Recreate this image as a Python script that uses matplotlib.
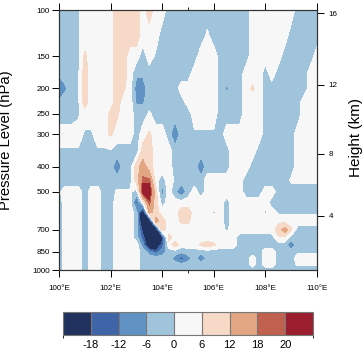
import numpy as np
import matplotlib
matplotlib.use("Agg")
import matplotlib.pyplot as plt
from matplotlib.colors import ListedColormap, BoundaryNorm

plt.rcParams['font.family'] = ['Liberation Sans', 'DejaVu Sans']

# grid of the cross section
lon = np.linspace(100, 110, 41)
plev = [100, 125, 150, 175, 200, 225, 250, 300, 350, 400, 450,
        500, 550, 600, 650, 700, 750, 800, 850, 900, 950, 1000]

# values, one code per grid point (see code_value)
rows = [
    "bbbl.....pppp.p..bbbbbbbbbbbbb.......bbbb",  # 100
    "bbbl.....pppp...bbbbbbbwbbbbbb......bbbbb",  # 125
    "bbblq....pp..b.lbbbbbb...bbbbb.....bbbbb.",  # 150
    "dbblp....pp.ddbbbbbbb....bbbb...b.bbbbb..",  # 175
    "Mcblp....pq.mmbbbbb......bcbb.q.bbbbbbb..",  # 200
    "dbblp....p..ccbbbbbb.....bbbb...bbbbbb...",  # 225
    "bbbl....qq..bbwbbbbbb....bbbb...bbbbbb...",  # 250
    "....ll..q...b.q..bMbbllllb......bbbbb....",  # 300
    "llllbblllbbbbpp...bbbbbbbbb....bbbbbb....",  # 350
    "bbbbbbbbbMbbpop...bbbbMbbbb...bbbbbbb....",  # 400
    "bbbbbbbbbbbbprr.b.lbbbb......bbbbbbbwwwww",  # 450
    "l...b..bbwwwbRRpm.dMb.b......bbb..bbbbbbb",  # 500
    "b...b..bb...B.rpb.........b......bbbbbbbb",  # 550
    "b...b..bb...bXop...pp...l.b.....l.lllllll",  # 600
    "b...b..bb...bXXop..qq.....b.......hh.....",  # 650
    "b...b..bb...bNXXp.........l.......poqbbbb",  # 700
    "b...b..bb...bBXXNp..........bbbbbbhhbbbbb",  # 750
    "b...b..bb..l.mXXB.p...qpq...bbbbbbbbMbbbb",  # 800
    "b...b..bb....bmBmbbdbbbbbbbbbbbb..bbbllll",  # 850
    "b...b..bb....bbbbbmBmbMdbbbbbb.b..bbb....",  # 900
    "b...b..bb....bbbbbbdbbbbbbbbbb.b..bbbwwww",  # 950
    "b...b..bb....bbbbbbbbbbbbbbbbbbbbbbbbbbbb",  # 1000
]
code_value = {'X': -30, 'N': -21, 'B': -15, 'M': -11.5, 'm': -9, 'c': -7,
              'd': -5, 'b': -3, 'l': -1, 'w': 1, '.': 3, 'h': 5, 'q': 7,
              'p': 9, 'o': 15, 'r': 19, 'R': 23}

levels = [-18, -12, -6, 0, 6, 12, 18, 20]
fill_colors = ['#21325f', '#3f64a8', '#6093c3', '#a1c4dd', '#f7f7f7',
               '#f7d9c7', '#e3a682', '#c0614f', '#9b1e2e']

pres_ticks = [100, 150, 200, 250, 300, 400, 500, 700, 850, 1000]
height_ticks = [4, 8, 12, 16]
lon_ticks = [100, 102, 104, 106, 108, 110]


def std_pressure(z_km):
    # standard atmosphere, hPa
    z = z_km * 1000.0
    if z <= 11000:
        return 1013.25 * (1 - 2.25577e-5 * z) ** 5.25588
    return 226.32 * np.exp(-(z - 11000) / 6341.62)


field = np.array([[code_value[ch] for ch in r] for r in rows], dtype=float)

bounds = [-99] + levels + [99]
cmap = ListedColormap(fill_colors)
norm = BoundaryNorm(bounds, cmap.N)

fig = plt.figure(figsize=(3.64, 3.54), dpi=100)
ax = fig.add_axes([0.162, 0.237, 0.709, 0.734])
cs = ax.contourf(lon, plev, field, levels=bounds, cmap=cmap, norm=norm)

ax.set_yscale('log')
ax.set_ylim(1000, 100)
ax.set_xlim(100, 110)
ax.set_yticks(pres_ticks)
ax.set_yticklabels([str(p) for p in pres_ticks])
ax.yaxis.set_minor_locator(plt.NullLocator())
ax.set_xticks(lon_ticks)
ax.set_xticklabels(["%d°E" % v for v in lon_ticks])
ax.set_xticks([105], minor=True)
ax.tick_params(axis='y', which='major', direction='out', length=5, width=0.7,
               labelsize=5.8, pad=1.5, right=False)
ax.tick_params(axis='x', which='major', direction='out', length=5, width=0.7,
               labelsize=5.8, pad=6, top=True)
ax.tick_params(axis='x', which='minor', direction='out', length=2.5,
               width=0.6, top=True)
ax.set_ylabel('Pressure Level (hPa)', fontsize=10.7)
ax.yaxis.set_label_coords(-0.18, 0.5)

ax2 = ax.twinx()
ax2.set_yscale('log')
ax2.set_ylim(1000, 100)
ax2.set_yticks([std_pressure(z) for z in height_ticks])
ax2.set_yticklabels([str(z) for z in height_ticks])
ax2.yaxis.set_minor_locator(plt.NullLocator())
ax2.tick_params(axis='y', direction='out', length=5, width=0.7,
                labelsize=5.8, pad=3.5)
ax2.set_ylabel('Height (km)', fontsize=11)
ax2.yaxis.set_label_coords(1.125, 0.51)

for a in (ax, ax2):
    for s in a.spines.values():
        s.set_color('#333333')
        s.set_linewidth(0.8)

cax = fig.add_axes([0.173, 0.054, 0.687, 0.065])
cbar = fig.colorbar(cs, cax=cax, orientation='horizontal', spacing='uniform',
                    ticks=levels, drawedges=True)
cbar.outline.set_edgecolor('#777777')
cbar.outline.set_linewidth(0.8)
cbar.dividers.set_color('#777777')
cbar.dividers.set_linewidth(0.8)
cbar.ax.tick_params(length=0, labelsize=8, pad=4)
cbar.ax.set_xticklabels([str(v) for v in levels])

fig.savefig('out.png', dpi=100)
